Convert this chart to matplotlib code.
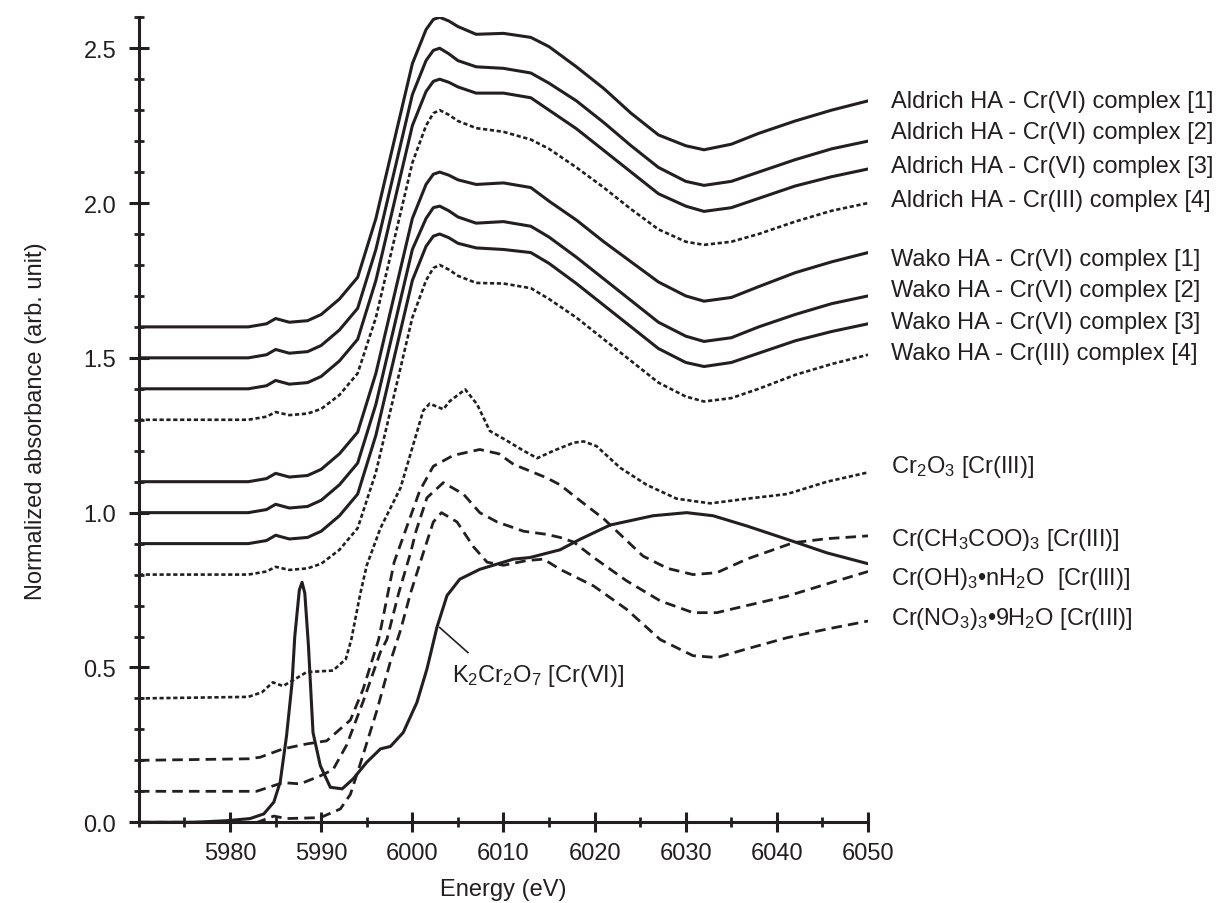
import matplotlib
matplotlib.use("Agg")
import matplotlib.pyplot as plt
from matplotlib.ticker import MultipleLocator

plt.rcParams.update({
    "font.family": ["Liberation Sans", "DejaVu Sans"],
    "font.size": 17,
    "mathtext.fontset": "custom",
    "mathtext.rm": "Liberation Sans",
    "mathtext.it": "Liberation Sans:italic",
    "mathtext.bf": "Liberation Sans:bold",
})

INK = "#231f20"

# --- humic acid complexes: normalized spectra on a shared energy grid -------
E_HA = [5970, 5982, 5984, 5985, 5986.5, 5988.5, 5990, 5992, 5994, 5996,
        5998, 6000, 6001.5, 6002.3, 6003, 6004, 6005, 6007, 6010, 6013,
        6015, 6018, 6021, 6024, 6027, 6030, 6032, 6035, 6038, 6042,
        6046, 6050]

aldrich_1 = [0, 0, 0.01, 0.027, 0.015, 0.02, 0.04, 0.09, 0.16, 0.35,
             0.6, 0.85, 0.96, 0.993, 1.0, 0.988, 0.97, 0.945, 0.948, 0.935,
             0.905, 0.84, 0.77, 0.69, 0.62, 0.585, 0.572, 0.59, 0.625, 0.665,
             0.70, 0.73]
aldrich_2 = [0, 0, 0.01, 0.027, 0.015, 0.02, 0.04, 0.09, 0.16, 0.35,
             0.6, 0.85, 0.96, 0.993, 1.0, 0.982, 0.96, 0.94, 0.935, 0.92,
             0.887, 0.83, 0.76, 0.685, 0.615, 0.57, 0.557, 0.57, 0.60, 0.64,
             0.675, 0.70]
aldrich_3 = [0, 0, 0.01, 0.027, 0.015, 0.02, 0.04, 0.09, 0.16, 0.35,
             0.6, 0.85, 0.96, 0.993, 1.0, 0.99, 0.975, 0.955, 0.955, 0.94,
             0.90, 0.84, 0.77, 0.70, 0.63, 0.59, 0.573, 0.585, 0.615, 0.655,
             0.685, 0.71]
aldrich_4 = [0, 0, 0.01, 0.025, 0.015, 0.02, 0.035, 0.08, 0.15, 0.33,
             0.58, 0.83, 0.95, 0.99, 1.0, 0.985, 0.965, 0.942, 0.93, 0.905,
             0.875, 0.815, 0.75, 0.68, 0.615, 0.575, 0.565, 0.575, 0.60, 0.64,
             0.675, 0.70]
wako_1 = [0, 0, 0.01, 0.027, 0.015, 0.02, 0.04, 0.09, 0.16, 0.35,
          0.6, 0.85, 0.96, 0.993, 1.0, 0.99, 0.975, 0.96, 0.965, 0.95,
          0.906, 0.845, 0.775, 0.71, 0.645, 0.60, 0.583, 0.595, 0.63, 0.675,
          0.71, 0.74]
wako_2 = [0, 0, 0.01, 0.027, 0.015, 0.02, 0.04, 0.09, 0.16, 0.35,
          0.6, 0.85, 0.95, 0.985, 0.99, 0.975, 0.955, 0.935, 0.94, 0.925,
          0.89, 0.825, 0.755, 0.685, 0.615, 0.57, 0.553, 0.565, 0.60, 0.64,
          0.675, 0.70]
wako_3 = [0, 0, 0.01, 0.027, 0.015, 0.02, 0.04, 0.09, 0.16, 0.35,
          0.6, 0.85, 0.96, 0.993, 1.0, 0.988, 0.97, 0.955, 0.95, 0.94,
          0.905, 0.84, 0.77, 0.70, 0.63, 0.585, 0.572, 0.585, 0.615, 0.655,
          0.685, 0.71]
wako_4 = [0, 0, 0.01, 0.025, 0.015, 0.02, 0.035, 0.08, 0.15, 0.33,
          0.58, 0.83, 0.95, 0.99, 1.0, 0.985, 0.965, 0.942, 0.94, 0.925,
          0.89, 0.83, 0.76, 0.69, 0.62, 0.575, 0.559, 0.57, 0.60, 0.645,
          0.68, 0.71]

ha_names = ["Aldrich HA - Cr(VI) complex [1]", "Aldrich HA - Cr(VI) complex [2]",
            "Aldrich HA - Cr(VI) complex [3]", "Aldrich HA - Cr(III) complex [4]",
            "Wako HA - Cr(VI) complex [1]", "Wako HA - Cr(VI) complex [2]",
            "Wako HA - Cr(VI) complex [3]", "Wako HA - Cr(III) complex [4]"]
ha_spectra = [aldrich_1, aldrich_2, aldrich_3, aldrich_4,
              wako_1, wako_2, wako_3, wako_4]
ha_offsets = [1.6, 1.5, 1.4, 1.3, 1.1, 1.0, 0.9, 0.8]
ha_label_y = [2.33, 2.23, 2.12, 2.01, 1.82, 1.72, 1.615, 1.515]

# --- reference compounds ----------------------------------------------------
E_cr2o3 = [5970, 5982, 5983.5, 5984.7, 5985.8, 5987, 5988.4, 5991.3, 5992.7,
           5993.3, 5994.3, 5995, 5996.5, 5998.7, 6000.1, 6001.2, 6001.9,
           6003.4, 6004.1, 6005.8, 6007.1, 6008.5, 6010.4, 6012.2, 6013.7,
           6015.5, 6017.7, 6018.8, 6020.2, 6022.8, 6025.7, 6029, 6032.7,
           6036.7, 6041.1, 6045.5, 6050]
cr2o3 = [0.0, 0.005, 0.02, 0.052, 0.04, 0.06, 0.085, 0.09, 0.127,
         0.19, 0.34, 0.43, 0.55, 0.68, 0.82, 0.93, 0.952,
         0.934, 0.96, 0.998, 0.95, 0.864, 0.832, 0.80, 0.776,
         0.80, 0.826, 0.83, 0.815, 0.745, 0.69, 0.645, 0.63,
         0.645, 0.66, 0.70, 0.73]

E_acetate = [5970, 5982, 5983.3, 5985.8, 5988.4, 5990.6, 5993.2, 5994.6,
             5996.3, 5998, 6000.8, 6002.3, 6004.5, 6007.4, 6009.5, 6011.1,
             6014.7, 6016.2, 6018, 6021, 6025.3, 6028, 6030.8, 6033.4,
             6036.7, 6041.8, 6045.5, 6050]
acetate = [0.0, 0.005, 0.01, 0.037, 0.053, 0.063, 0.13, 0.23,
           0.39, 0.64, 0.87, 0.95, 0.985, 1.004, 0.99, 0.956,
           0.913, 0.89, 0.848, 0.78, 0.66, 0.62, 0.60, 0.606,
           0.65, 0.703, 0.716, 0.725]

E_hydroxide = [5970, 5982.9, 5985.8, 5987.7, 5989.9, 5991.3, 5992.8, 5994.6,
               5996.5, 5997.2, 5998.5, 5999.8, 6000.4, 6001.6, 6003.4, 6005.6,
               6007.4, 6009.3, 6012.2, 6014.7, 6016.2, 6017.7, 6019.9, 6023.5,
               6027.2, 6030.8, 6033.4, 6036.7, 6041.1, 6045.5, 6050]
hydroxide = [0.0, 0.0, 0.028, 0.024, 0.05, 0.07, 0.15, 0.29,
             0.45, 0.49, 0.64, 0.77, 0.84, 0.948, 0.997, 0.96,
             0.90, 0.87, 0.84, 0.83, 0.82, 0.805, 0.755, 0.68,
             0.615, 0.577, 0.577, 0.60, 0.63, 0.67, 0.71]

E_nitrate = [5970, 5983, 5984.8, 5986.2, 5989.9, 5992.1, 5993.2, 5994.3,
             5996.1, 5997.6, 5998.7, 5999.8, 6001.2, 6002.3, 6003.2, 6004.9,
             6006.7, 6008.2, 6010, 6012.5, 6014.4, 6016.2, 6018.4, 6019.9,
             6023.5, 6027.2, 6030.8, 6033.4, 6036.7, 6041.1, 6045.5, 6050]
nitrate = [0.0, 0.0, 0.02, 0.012, 0.015, 0.043, 0.09, 0.19,
           0.36, 0.52, 0.62, 0.74, 0.87, 0.97, 1.0, 0.97,
           0.89, 0.84, 0.83, 0.845, 0.85, 0.817, 0.785, 0.763,
           0.688, 0.59, 0.538, 0.532, 0.56, 0.596, 0.624, 0.65]

E_dichromate = [5970, 5976, 5979.6, 5982.2, 5983.7, 5984.8, 5985.5, 5986.2,
                5986.8, 5987.1, 5987.6, 5987.9, 5988.2, 5988.6, 5989.1, 5989.9,
                5991, 5992.3, 5993.5, 5995, 5996.5, 5997.6, 5999, 6000.5,
                6001.6, 6002.7, 6003.8, 6005.2, 6007.4, 6011.1, 6012.9, 6016.2,
                6018.4, 6021.7, 6026.4, 6030.1, 6033, 6036.7, 6041.1, 6045.5,
                6050]
dichromate = [0.0, 0.0, 0.005, 0.012, 0.027, 0.065, 0.13, 0.28,
              0.45, 0.6, 0.75, 0.775, 0.74, 0.57, 0.29, 0.183,
              0.113, 0.108, 0.14, 0.194, 0.237, 0.245, 0.29, 0.387,
              0.495, 0.63, 0.732, 0.785, 0.817, 0.85, 0.855, 0.88,
              0.914, 0.96, 0.99, 1.0, 0.99, 0.957, 0.914, 0.87,
              0.835]

ref_names = ["Cr$_2$O$_3$ [Cr(III)]", "Cr(CH$_3$COO)$_3$ [Cr(III)]",
             "Cr(OH)$_3$•nH$_2$O  [Cr(III)]", "Cr(NO$_3$)$_3$•9H$_2$O [Cr(III)]"]
ref_energy = [E_cr2o3, E_acetate, E_hydroxide, E_nitrate]
ref_spectra = [cr2o3, acetate, hydroxide, nitrate]
ref_offsets = [0.4, 0.2, 0.1, 0.0]
ref_label_y = [1.15, 0.915, 0.79, 0.66]

DOTTED = (0, (1.6, 1.0))
DASHED = (0, (3.8, 2.2))

fig = plt.figure(figsize=(12.24, 9.04), dpi=100)
ax = fig.add_axes([0.1135, 0.0893, 0.5957, 0.8905])

for name, spec, off, ly in zip(ha_names, ha_spectra, ha_offsets, ha_label_y):
    ls = DOTTED if "Cr(III)" in name else "-"
    lw = 1.9 if "Cr(III)" in name else 2.2
    ax.plot(E_HA, [v + off for v in spec], color=INK, lw=lw, ls=ls,
            solid_joinstyle="round")
    ax.text(6052.5, ly, name, va="center", ha="left", color=INK, clip_on=False)

for i, (name, e, spec, off, ly) in enumerate(
        zip(ref_names, ref_energy, ref_spectra, ref_offsets, ref_label_y)):
    ls = DOTTED if i == 0 else DASHED
    lw = 1.9 if i == 0 else 2.0
    ax.plot(e, [v + off for v in spec], color=INK, lw=lw, ls=ls)
    ax.text(6052.5, ly, name, va="center", ha="left", color=INK, clip_on=False)

ax.plot(E_dichromate, dichromate, color=INK, lw=2.2, solid_joinstyle="round")
ax.plot([6003.0, 6006.1], [0.629, 0.548], color=INK, lw=1.2)
ax.text(6004.4, 0.477, "K$_2$Cr$_2$O$_7$ [Cr(VI)]", va="center", ha="left",
        color=INK)

ax.set_xlim(5970, 6050)
ax.set_ylim(0, 2.6)
ax.set_xticks(range(5980, 6051, 10))
ax.xaxis.set_minor_locator(MultipleLocator(5))
ax.yaxis.set_major_locator(MultipleLocator(0.5))
ax.yaxis.set_minor_locator(MultipleLocator(0.1))
ax.yaxis.set_major_formatter(lambda v, p: f"{v:.1f}")

for side in ("top", "right"):
    ax.spines[side].set_visible(False)
for side in ("left", "bottom"):
    ax.spines[side].set_linewidth(2.2)
    ax.spines[side].set_color(INK)

ax.tick_params(which="major", direction="inout", length=14.5, width=2.2,
               color=INK, labelcolor=INK, labelsize=17)
ax.tick_params(which="minor", direction="inout", length=7.5, width=2.0,
               color=INK)
ax.tick_params(axis="x", which="major", pad=7)
ax.tick_params(axis="y", which="major", pad=9)

ax.set_xlabel("Energy (eV)", color=INK, fontsize=17, labelpad=10)
ax.set_ylabel("Normalized absorbance (arb. unit)", color=INK, fontsize=17,
              labelpad=26)

fig.savefig("out.png", dpi=100)
